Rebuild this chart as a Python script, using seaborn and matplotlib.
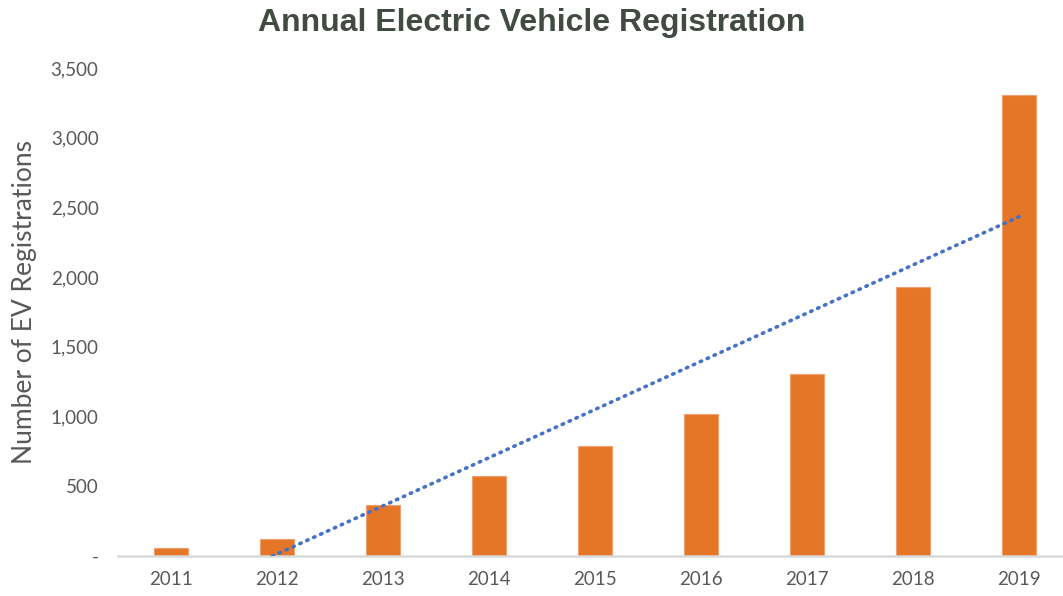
import numpy as np
import pandas as pd
import matplotlib
matplotlib.use("Agg")
import matplotlib.pyplot as plt
from matplotlib.ticker import FuncFormatter
import seaborn as sns

# values
years = ["2011", "2012", "2013", "2014", "2015", "2016", "2017", "2018", "2019"]
registrations = [57, 122, 366, 574, 787, 1017, 1303, 1926, 3307]

df = pd.DataFrame({"year": years, "count": registrations})

sns.set_theme(style="white")
plt.rcParams["font.family"] = ["Lato", "DejaVu Sans"]

fig = plt.figure(figsize=(10.63, 5.96), dpi=100)
ax = fig.add_axes([0.111, 0.067, 0.8975, 0.819])

sns.barplot(data=df, x="year", y="count", color="#E57627", saturation=1,
            width=0.32, edgecolor="#F0A070", linewidth=0.8, ax=ax)

# linear trendline, like excel
xs = np.arange(len(years))
slope, icpt = np.polyfit(xs, registrations, 1)
ax.plot(xs, slope * xs + icpt, color="#4472C4", linewidth=2.6,
        linestyle=(0, (0.4, 1.7)), dash_capstyle="round", zorder=3)

ax.set_xlim(-0.5, len(years) - 0.5)
ax.set_ylim(0, 3500)
ax.set_yticks(np.arange(0, 3501, 500))
ax.yaxis.set_major_formatter(FuncFormatter(lambda v, p: "-" if v == 0 else f"{v:,.0f}"))

for s in ["top", "right", "left"]:
    ax.spines[s].set_visible(False)
ax.spines["bottom"].set_color("#D9D9D9")
ax.spines["bottom"].set_linewidth(1.8)

ax.tick_params(axis="y", length=0, pad=14, labelsize=13.5, labelcolor="#595959")
ax.tick_params(axis="x", length=0, pad=11, labelsize=13.5, labelcolor="#595959")

ax.set_xlabel("")
ax.set_ylabel("Number of EV Registrations", fontsize=19, color="#595959")
ax.yaxis.set_label_coords(-0.085, 0.52)

fig.text(0.5, 0.962, "Annual Electric Vehicle Registration", ha="center", va="center",
         fontsize=23, fontweight="bold", color="#414B41",
         family=["Liberation Sans", "DejaVu Sans"])

fig.savefig("out.png", dpi=100)
